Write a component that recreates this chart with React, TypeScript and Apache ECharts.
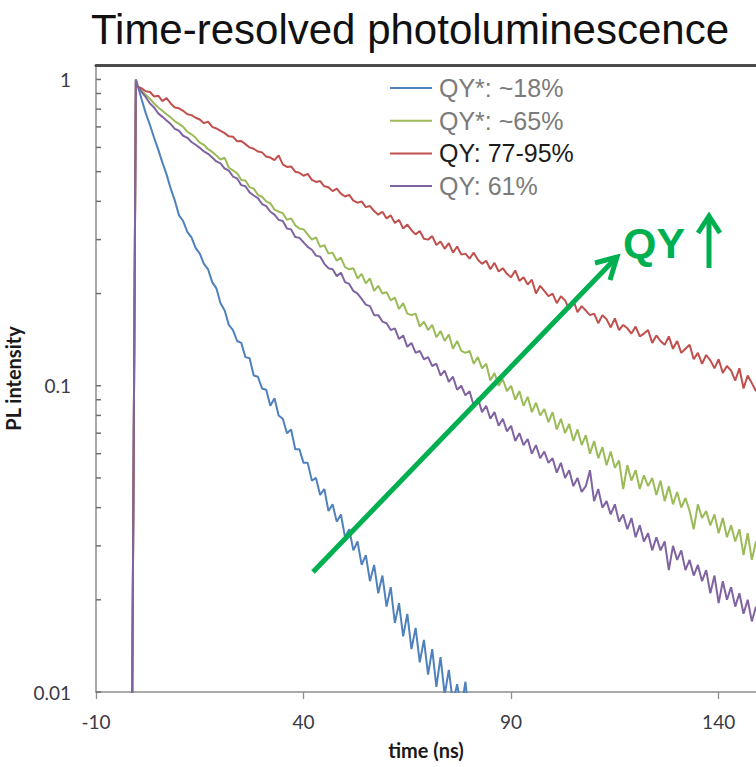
import { useEffect, useRef } from "react";
import * as echarts from "echarts";

// time axis (ns)
const TIME = [
  -1.4, -0.4,
  0, 1, 2, 3, 4, 5, 6, 7, 8, 9,
  10, 11, 12, 13, 14, 15, 16, 17, 18, 19,
  20, 21, 22, 23, 24, 25, 26, 27, 28, 29,
  30, 31, 32, 33, 34, 35, 36, 37, 38, 39,
  40, 41, 42, 43, 44, 45, 46, 47, 48, 49,
  50, 51, 52, 53, 54, 55, 56, 57, 58, 59,
  60, 61, 62, 63, 64, 65, 66, 67, 68, 69,
  70, 71, 72, 73, 74, 75, 76, 77, 78, 79,
  80, 81, 82, 83, 84, 85, 86, 87, 88, 89,
  90, 91, 92, 93, 94, 95, 96, 97, 98, 99,
  100, 101, 102, 103, 104, 105, 106, 107, 108, 109,
  110, 111, 112, 113, 114, 115, 116, 117, 118, 119,
  120, 121, 122, 123, 124, 125, 126, 127, 128, 129,
  130, 131, 132, 133, 134, 135, 136, 137, 138, 139,
  140, 141, 142, 143, 144, 145, 146, 147, 148, 149,
];

const SERIES_NAMES = ["QY*: ~18%", "QY*: ~65%", "QY: 77-95%", "QY: 61%"];

const BLUE = [
  0.005, 1.0,
  0.96, 0.86, 0.775, 0.71, 0.645, 0.59, 0.535, 0.49, 0.44, 0.402,
  0.36, 0.345, 0.318, 0.305, 0.282, 0.27, 0.25, 0.24, 0.218, 0.208,
  0.186, 0.176, 0.158, 0.152, 0.14, 0.138, 0.124, 0.123, 0.108, 0.107,
  0.098, 0.097, 0.086, 0.091, 0.08, 0.078, 0.07, 0.072, 0.062, 0.062,
  0.056, 0.056, 0.049, 0.05, 0.044, 0.046, 0.039, 0.041, 0.036, 0.038,
  0.032, 0.034, 0.029, 0.031, 0.026, 0.028, 0.023, 0.026, 0.021, 0.024,
  0.019, 0.022, 0.0168, 0.0195, 0.0152, 0.018, 0.0138, 0.0162, 0.0125, 0.0148,
  0.0114, 0.0138, 0.0104, 0.013, 0.0098, 0.0118, 0.0092, 0.0106, 0.0088, 0.0108,
  0.008,
];

const GREEN = [
  0.005, 1.0,
  0.95, 0.92, 0.89, 0.865, 0.835, 0.81, 0.79, 0.77, 0.752, 0.73,
  0.716, 0.7, 0.675, 0.662, 0.645, 0.622, 0.612, 0.592, 0.58, 0.565,
  0.548, 0.555, 0.515, 0.505, 0.494, 0.47, 0.468, 0.445, 0.44, 0.42,
  0.414, 0.4, 0.394, 0.376, 0.37, 0.366, 0.348, 0.352, 0.334, 0.326,
  0.324, 0.312, 0.3, 0.305, 0.284, 0.288, 0.27, 0.272, 0.256, 0.262,
  0.244, 0.24, 0.242, 0.224, 0.232, 0.216, 0.224, 0.204, 0.212, 0.2,
  0.202, 0.19, 0.194, 0.178, 0.186, 0.172, 0.17, 0.172, 0.156, 0.162,
  0.152, 0.158, 0.144, 0.151, 0.14, 0.147, 0.132, 0.14, 0.13, 0.128,
  0.13, 0.118, 0.124, 0.114, 0.118, 0.104, 0.11, 0.1, 0.105, 0.096,
  0.1, 0.09, 0.096, 0.086, 0.092, 0.082, 0.088, 0.08, 0.084, 0.076,
  0.082, 0.072, 0.078, 0.07, 0.075, 0.066, 0.072, 0.064, 0.069, 0.06,
  0.066, 0.058, 0.063, 0.055, 0.061, 0.054, 0.057, 0.046, 0.055, 0.049,
  0.053, 0.046, 0.051, 0.047, 0.05, 0.044, 0.049, 0.042, 0.047, 0.041,
  0.045, 0.04, 0.043, 0.039, 0.034, 0.041, 0.037, 0.039, 0.035, 0.038,
  0.033, 0.037, 0.032, 0.035, 0.031, 0.034, 0.028, 0.033, 0.027, 0.031,
];

const RED = [
  0.005, 0.98,
  0.95, 0.935, 0.915, 0.91, 0.88, 0.885, 0.85, 0.87, 0.835, 0.81,
  0.805, 0.79, 0.77, 0.765, 0.75, 0.74, 0.72, 0.728, 0.7, 0.692,
  0.68, 0.668, 0.652, 0.65, 0.628, 0.63, 0.615, 0.6, 0.594, 0.582,
  0.578, 0.56, 0.556, 0.545, 0.565, 0.528, 0.518, 0.52, 0.5, 0.496,
  0.485, 0.492, 0.47, 0.463, 0.466, 0.448, 0.445, 0.432, 0.44, 0.424,
  0.415, 0.42, 0.402, 0.396, 0.4, 0.383, 0.386, 0.372, 0.362, 0.37,
  0.352, 0.36, 0.34, 0.348, 0.326, 0.336, 0.322, 0.312, 0.32, 0.302,
  0.3, 0.308, 0.288, 0.296, 0.28, 0.292, 0.272, 0.285, 0.268, 0.27,
  0.26, 0.272, 0.258, 0.25, 0.256, 0.24, 0.252, 0.236, 0.242, 0.232,
  0.226, 0.238, 0.22, 0.226, 0.214, 0.222, 0.2, 0.212, 0.204, 0.196,
  0.2, 0.186, 0.196, 0.19, 0.178, 0.19, 0.174, 0.182, 0.176, 0.17,
  0.172, 0.16, 0.17, 0.165, 0.155, 0.166, 0.152, 0.158, 0.154, 0.148,
  0.156, 0.145, 0.148, 0.152, 0.138, 0.146, 0.14, 0.136, 0.145, 0.132,
  0.14, 0.128, 0.132, 0.136, 0.122, 0.128, 0.118, 0.126, 0.121, 0.114,
  0.122, 0.11, 0.116, 0.112, 0.104, 0.114, 0.098, 0.108, 0.102, 0.096,
];

const PURPLE = [
  0.005, 1.0,
  0.95, 0.91, 0.875, 0.835, 0.81, 0.775, 0.755, 0.735, 0.715, 0.69,
  0.68, 0.655, 0.645, 0.625, 0.612, 0.598, 0.582, 0.572, 0.556, 0.54,
  0.532, 0.512, 0.504, 0.482, 0.475, 0.452, 0.448, 0.428, 0.418, 0.41,
  0.392, 0.386, 0.37, 0.362, 0.348, 0.345, 0.326, 0.324, 0.306, 0.304,
  0.294, 0.284, 0.278, 0.266, 0.264, 0.25, 0.242, 0.24, 0.228, 0.234,
  0.218, 0.215, 0.204, 0.2, 0.192, 0.184, 0.182, 0.17, 0.17, 0.162,
  0.16, 0.152, 0.154, 0.142, 0.146, 0.134, 0.138, 0.128, 0.13, 0.122,
  0.124, 0.116, 0.118, 0.108, 0.112, 0.103, 0.107, 0.097, 0.1, 0.093,
  0.096, 0.086, 0.091, 0.082, 0.086, 0.078, 0.082, 0.074, 0.078, 0.071,
  0.074, 0.066, 0.07, 0.064, 0.067, 0.06, 0.064, 0.058, 0.061, 0.056,
  0.058, 0.052, 0.056, 0.05, 0.053, 0.047, 0.05, 0.045, 0.047, 0.053,
  0.042, 0.046, 0.04, 0.042, 0.038, 0.041, 0.036, 0.038, 0.034, 0.037,
  0.032, 0.035, 0.031, 0.033, 0.029, 0.032, 0.029, 0.031, 0.025, 0.03,
  0.027, 0.029, 0.025, 0.027, 0.024, 0.026, 0.023, 0.025, 0.021, 0.024,
  0.0195, 0.023, 0.02, 0.022, 0.019, 0.021, 0.018, 0.02, 0.017, 0.019,
];

const SERIES_VALUES = [BLUE, GREEN, RED, PURPLE];
const SERIES_COLORS = ["#4f81bd", "#9bbb59", "#c0504d", "#8064a2"];

const X_MIN = -10;
const X_MAX = 149;
const X_TICKS = [-10, 40, 90, 140];
const Y_LABELS = [0.01, 0.1, 1];
const Y_TICKS = [
  0.01, 0.02, 0.03, 0.04, 0.05, 0.06, 0.07, 0.08, 0.09,
  0.1, 0.2, 0.3, 0.4, 0.5, 0.6, 0.7, 0.8, 0.9, 1,
];

const GREEN_ANNOT = "#00b050";

export default function App() {
  const ref = useRef<HTMLDivElement>(null);

  useEffect(() => {
    if (!ref.current) return;
    const chart = echarts.init(ref.current, undefined, { renderer: "svg" });

    const lineSeries = SERIES_NAMES.map((name, s) => ({
      name,
      type: "line",
      data: SERIES_VALUES[s].map((v, i) => [TIME[i], v]),
      showSymbol: false,
      symbol: "none",
      color: SERIES_COLORS[s],
      lineStyle: { color: SERIES_COLORS[s], width: 2 },
      emphasis: { disabled: true },
    }));

    // inward y-axis ticks at every 1..9 multiple, placed through the axis scale
    const tickSeries = {
      name: "yticks",
      type: "custom",
      silent: true,
      clip: false,
      z: 5,
      data: Y_TICKS.map((v) => [X_MIN, v]),
      renderItem: (_params: any, api: any) => {
        const p = api.coord([api.value(0), api.value(1)]);
        return {
          type: "line",
          shape: { x1: p[0], y1: p[1], x2: p[0] + 5, y2: p[1] },
          style: { stroke: "#6e6e6e", lineWidth: 1.5 },
        };
      },
    };

    const axisGray = "#8e8e8e";

    chart.setOption({
      animation: false,
      grid: {
        left: 96,
        right: 0,
        top: 65,
        bottom: 75,
        containLabel: false,
        outerBoundsMode: "none",
      },
      legend: {
        orient: "vertical",
        left: 390,
        top: 73,
        padding: 0,
        itemWidth: 42,
        itemHeight: 2,
        itemGap: 2.7,
        icon: "rect",
        selectedMode: false,
        textStyle: {
          fontFamily: "Liberation Sans",
          fontSize: 25,
          color: "#7b7b7b",
          lineHeight: 30,
          padding: [0, 0, 0, 2],
        },
        data: SERIES_NAMES.map((n, i) =>
          i === 2 ? { name: n, textStyle: { color: "#1c1c1c" } } : { name: n }
        ),
      },
      xAxis: [
        {
          type: "value",
          min: X_MIN,
          max: X_MAX,
          interval: 50,
          axisLine: { onZero: false, lineStyle: { color: axisGray, width: 1.5 } },
          axisTick: {
            customValues: X_TICKS,
            length: 7,
            lineStyle: { color: axisGray, width: 1.3 },
          },
          axisLabel: {
            customValues: X_TICKS,
            fontFamily: "Lato",
            fontSize: 19,
            color: "#3a3a46",
            margin: 20,
          },
          splitLine: { show: false },
          name: "time (ns)",
          nameLocation: "middle",
          nameGap: 48,
          nameTextStyle: {
            fontFamily: "Lato",
            fontWeight: "bold",
            fontSize: 20,
            color: "#1a1a1a",
          },
        },
        {
          type: "value",
          position: "top",
          min: X_MIN,
          max: X_MAX,
          axisLine: { onZero: false, lineStyle: { color: "#4a4a4a", width: 3 } },
          axisTick: { show: false },
          axisLabel: { show: false },
          splitLine: { show: false },
        },
      ],
      yAxis: {
        type: "log",
        logBase: 10,
        min: 0.01,
        max: 1.115,
        axisLine: { show: true, onZero: false, lineStyle: { color: axisGray, width: 1.5 } },
        axisTick: { show: false },
        axisLabel: {
          customValues: Y_LABELS,
          fontFamily: "Lato",
          fontSize: 19,
          color: "#3a3a46",
          margin: 25,
          formatter: (v: number) => String(+Number(v).toPrecision(3)),
        },
        splitLine: { show: false },
        name: "PL intensity",
        nameLocation: "middle",
        nameGap: 56,
        nameRotate: 90,
        nameTextStyle: {
          fontFamily: "Lato",
          fontWeight: "bold",
          fontSize: 20,
          color: "#1a1a1a",
        },
      },
      series: [...lineSeries, tickSeries],
      graphic: [
        {
          type: "text",
          x: 410,
          y: 29,
          style: {
            text: "Time-resolved photoluminescence",
            font: '42px "Liberation Sans", Arial, sans-serif',
            fill: "#111111",
            align: "center",
            verticalAlign: "middle",
          },
          z: 10,
        },
        {
          type: "line",
          shape: { x1: 313, y1: 572, x2: 614, y2: 260 },
          style: { stroke: GREEN_ANNOT, lineWidth: 5 },
          z: 10,
        },
        {
          type: "polyline",
          shape: { points: [[595, 263], [617, 257], [610, 280]] },
          style: { stroke: GREEN_ANNOT, lineWidth: 5, fill: null },
          z: 10,
        },
        {
          type: "text",
          x: 623,
          y: 243,
          style: {
            text: "QY",
            font: 'bold 43px "Liberation Sans", Arial, sans-serif',
            fill: GREEN_ANNOT,
            align: "left",
            verticalAlign: "middle",
          },
          z: 10,
        },
        {
          type: "line",
          shape: { x1: 709, y1: 268, x2: 709, y2: 219 },
          style: { stroke: GREEN_ANNOT, lineWidth: 5 },
          z: 10,
        },
        {
          type: "polyline",
          shape: { points: [[698, 233], [709, 216], [720, 233]] },
          style: { stroke: GREEN_ANNOT, lineWidth: 5, fill: null },
          z: 10,
        },
      ],
    });

    return () => chart.dispose();
  }, []);

  return (
    <div
      ref={ref}
      style={{ position: "absolute", left: 0, top: 0, width: 756, height: 767, background: "#ffffff" }}
    />
  );
}
